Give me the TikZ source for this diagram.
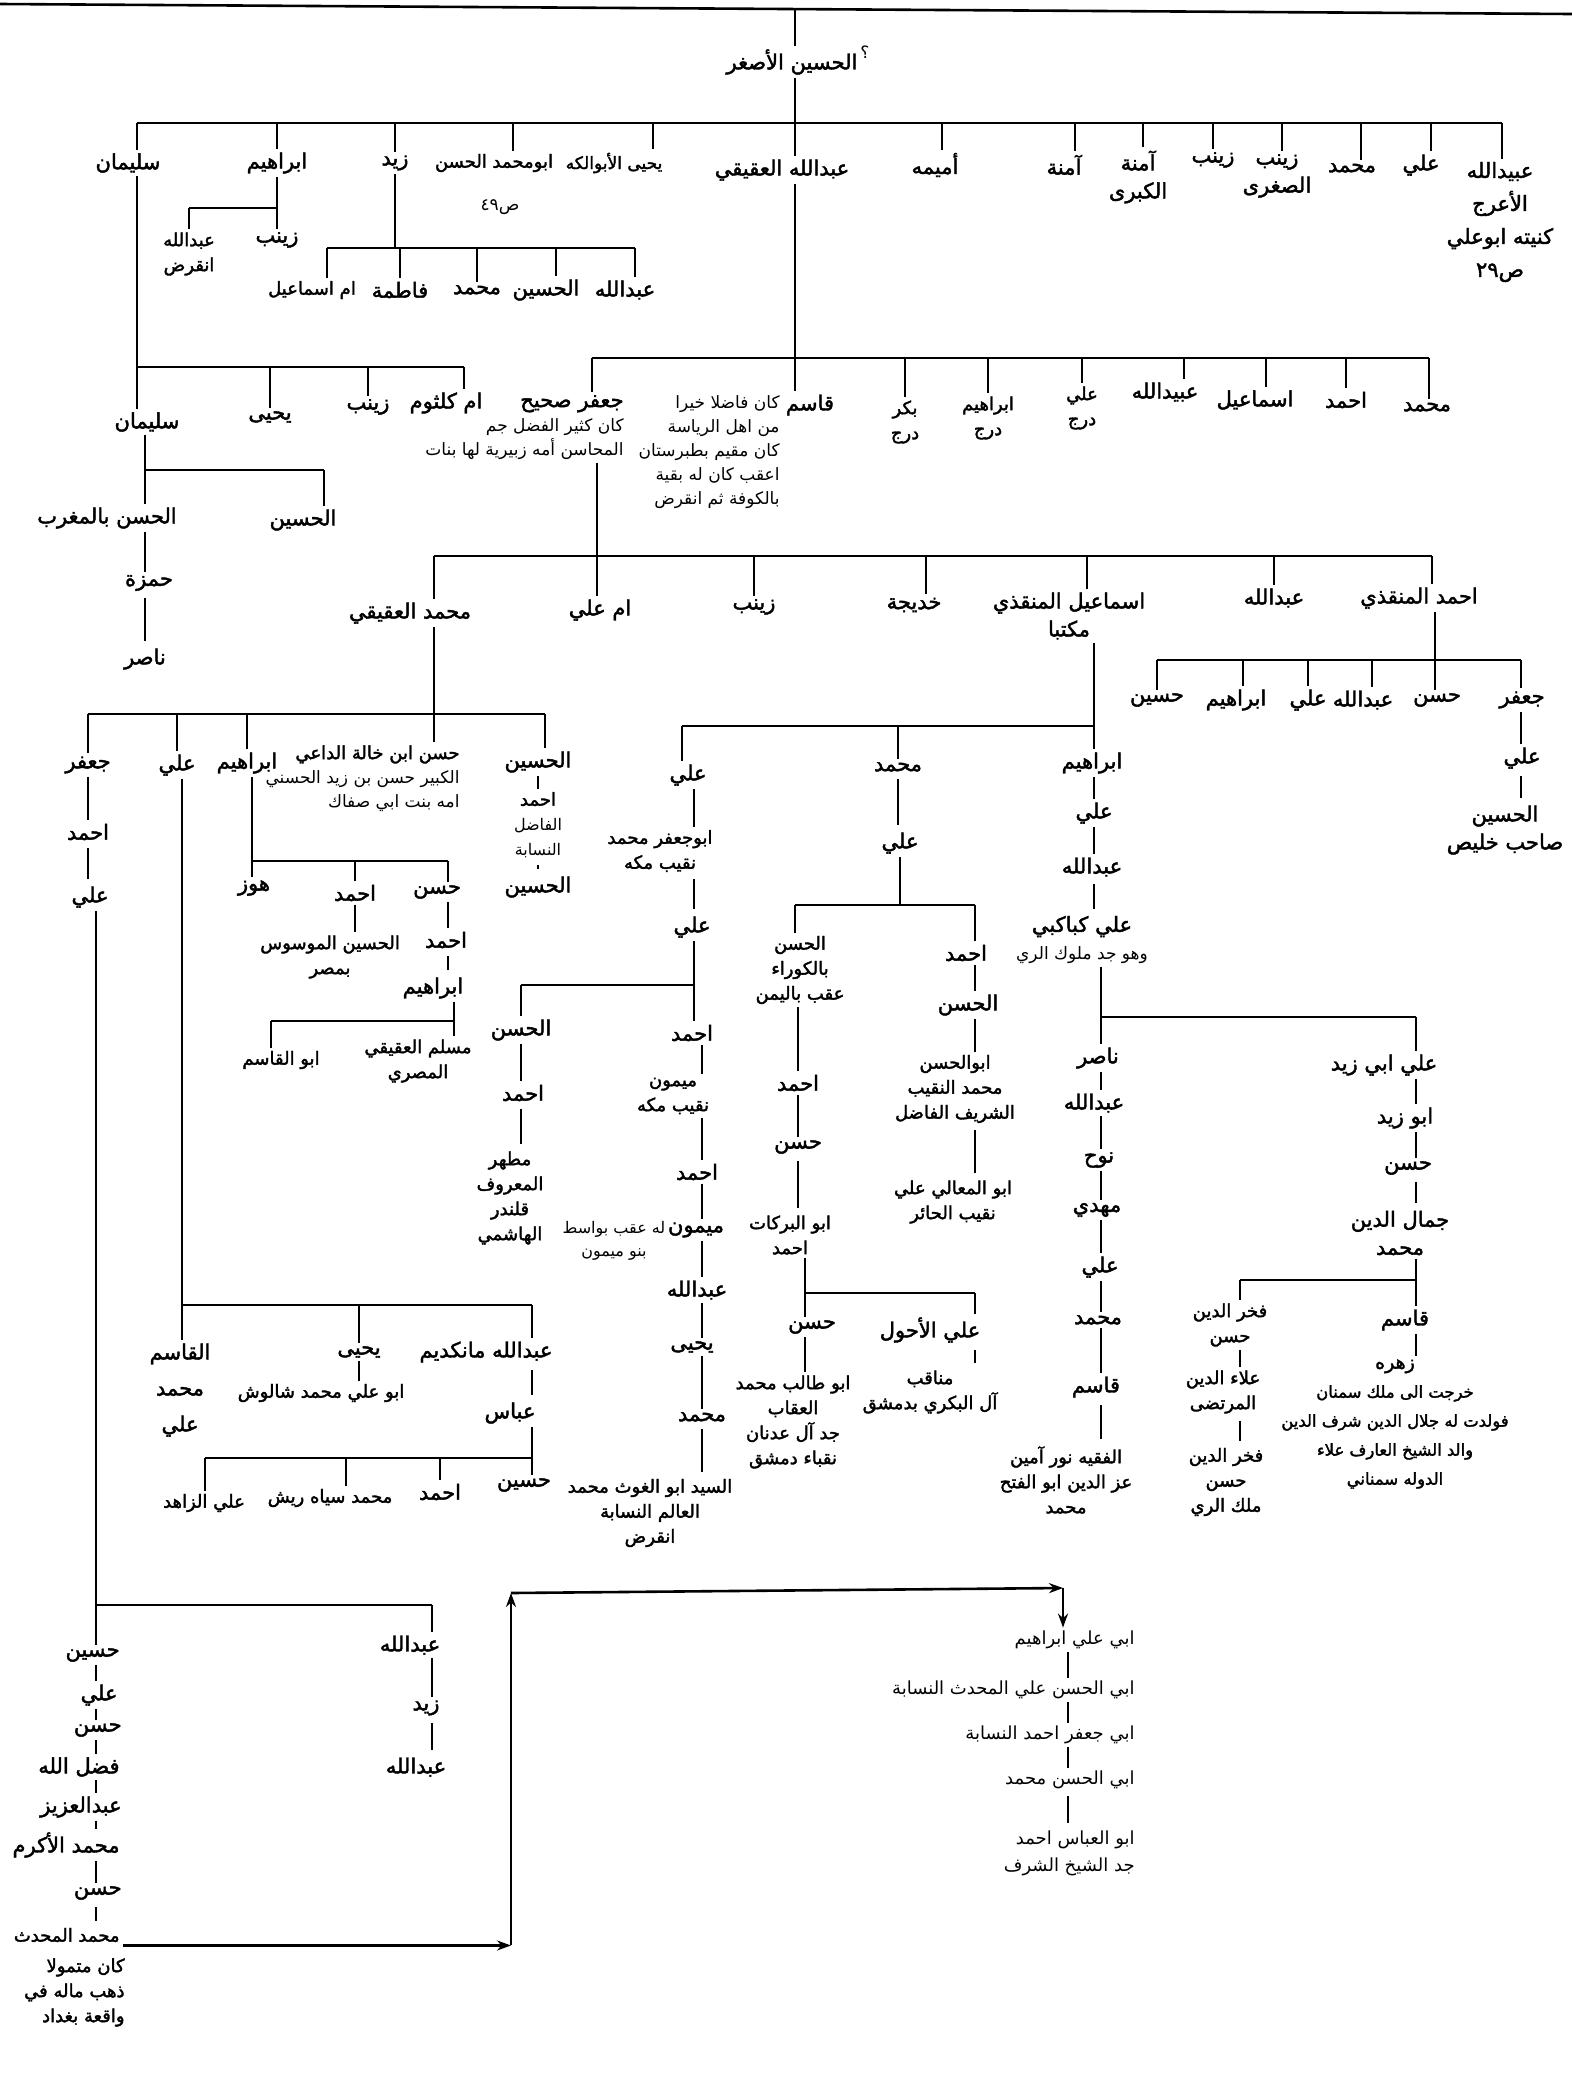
\documentclass[tikz,border=0pt]{standalone}
\usepackage{fontspec}
\newfontfamily\arfont[Script=Arabic]{DejaVu Sans}
\newfontfamily\arbold[Script=Arabic,FakeBold=2]{DejaVu Sans}
\TeXXeTstate=1
\newcommand{\rl}[1]{\beginR#1\endR}
\usetikzlibrary{arrows.meta,calc}

\begin{document}
\begin{tikzpicture}[x=0.5pt, y=-0.5pt,
  nm/.style={font={\arbold\fontsize{10.5}{14}\selectfont}, align=center, inner sep=1.5pt},
  nb/.style={font={\arbold\fontsize{9}{12.5}\selectfont}, align=center, inner sep=1.5pt},
  nt/.style={font={\arfont\fontsize{8.5}{12}\selectfont}, align=center, inner sep=1.5pt},
  ls/.style={font={\arfont\fontsize{9}{13.5}\selectfont}, align=right, inner sep=1.5pt, anchor=east},
  ln/.style={line width=1.3pt},
  lk/.style={line width=1.3pt, shorten <=2pt, shorten >=2pt},
  arw/.style={line width=1.3pt, -{Stealth[length=7pt,width=5pt]}}
]
\useasboundingbox (0,0) rectangle (1572,2084);

%% top rule and root
\coordinate (rulel) at (0,4);
\coordinate (ruler) at (1572,14);
\draw[ln] (rulel) -- (ruler);
\node[nm] (root) at (792,62) {\rl{الحسين الأصغر}};
\node[nt] (rootq) at ($(root.east)+(2pt,5pt)$) {\rl{؟}};
\coordinate (rootup) at (795,9);
\draw[ln] (rootup) -- (rootup |- root.north);

%% sons of the root
\coordinate (b1l) at (137,123);
\coordinate (b1r) at (1502,123);
\node[nm] (sul1) at (128,163) {\rl{سليمان}};
\node[nm] (ibr1) at (277,163) {\rl{ابراهيم}};
\node[nm] (zay1) at (395,163) {\rl{زيد}};
\node[nb] (has1) at (494,163) {\rl{ابومحمد الحسن}};
\node[nt] (has1p) at (500,207) {\rl{ص\beginL ٤٩\endL}};
\node[nb, font={\arbold\fontsize{8.5}{12}\selectfont}] (yah1) at (614,163) {\rl{يحيى الأبوالكه}};
\node[nm] (abd1) at (782,170) {\rl{عبدالله العقيقي}};
\node[nm] (umy1) at (935,165) {\rl{أميمه}};
\node[nm] (amn1) at (1064,165) {\rl{آمنة}};
\node[nm] (amk1) at (1138,177) {\rl{آمنة}\\\rl{الكبرى}};
\node[nm] (zyn1) at (1213,160) {\rl{زينب}};
\node[nm] (zys1) at (1277,176) {\rl{زينب}\\\rl{الصغرى}};
\node[nm] (muh1) at (1352,168) {\rl{محمد}};
\node[nm] (ali1) at (1421,165) {\rl{علي}};
\node[nm, font={\arbold\fontsize{10.5}{16.5}\selectfont}] (ubd1) at (1500,222)
  {\rl{عبيدالله}\\\rl{الأعرج}\\\rl{كنيته ابوعلي}\\\rl{ص\beginL ٢٩\endL}};

\draw[ln] (b1l) -- (b1r);
\draw[ln] (rootup |- root.south) -- (rootup |- abd1.north);
\draw[ln] (b1l) -- (b1l |- sul1.north)
  (ibr1 |- b1l) -- (ibr1)
  (zay1 |- b1l) -- (zay1)
  ($(has1.north |- b1l)+(9.5pt,0)$) -- ($(has1.north)+(9.5pt,0)$)
  ($(yah1.north |- b1l)+(19.5pt,0)$) -- ($(yah1.north)+(19.5pt,0)$)
  ($(umy1.north |- b1l)+(3.5pt,0)$) -- ($(umy1.north)+(3.5pt,0)$)
  ($(amn1.north |- b1l)+(5.5pt,0)$) -- ($(amn1.north)+(5.5pt,0)$)
  ($(amk1.north |- b1l)+(2.5pt,0)$) -- ($(amk1.north)+(2.5pt,0)$)
  (zyn1 |- b1l) -- (zyn1)
  ($(zys1.north |- b1l)+(2.5pt,0)$) -- ($(zys1.north)+(2.5pt,0)$)
  ($(muh1.north |- b1l)+(4.5pt,0)$) -- ($(muh1.north)+(4.5pt,0)$)
  ($(ali1.north |- b1l)+(5pt,0)$) -- ($(ali1.north)+(5pt,0)$)
  (b1r) -- (b1r |- ubd1.north);

%% ibrahim
\coordinate (b2l) at (189,208);
\coordinate (b2r) at (277,208);
\node[nm] (zyn2) at (277,240) {\rl{زينب}};
\node[nb] (abd2) at (189,254) {\rl{عبدالله}\\\rl{انقرض}};
\draw[ln] (ibr1) -- (ibr1 |- zyn2.north) (b2l) -- (b2r) (b2l) -- (b2l |- abd2.north);

%% zayd
\coordinate (b3l) at (327,248);
\coordinate (b3r) at (635,248);
\node[nb] (ums3) at (312,290) {\rl{ام اسماعيل}};
\node[nm] (fat3) at (400,290) {\rl{فاطمة}};
\node[nm] (mhd3) at (477,290) {\rl{محمد}};
\node[nm] (hsn3) at (546,290) {\rl{الحسين}};
\node[nm] (abd3) at (625,290) {\rl{عبدالله}};
\draw[ln] (zay1) -- (zay1 |- b3l) (b3l) -- (b3r)
  (b3l) -- (b3l |- ums3.north)
  (fat3 |- b3l) -- (fat3)
  (mhd3 |- b3l) -- (mhd3)
  ($(hsn3.north |- b3l)+(5pt,0)$) -- ($(hsn3.north)+(5pt,0)$)
  (b3r) -- (b3r |- abd3.north);

%% sulayman
\coordinate (b4l) at (137,367);
\coordinate (b4r) at (464,367);
\node[nm] (sul4) at (147,422) {\rl{سليمان}};
\node[nm] (yah4) at (270,417) {\rl{يحيى}};
\node[nm] (zyn4) at (368,407) {\rl{زينب}};
\node[nm] (umk4) at (446,403) {\rl{ام كلثوم}};
\draw[ln] (b4l |- sul1.south) -- (b4l |- sul4.north) (b4l) -- (b4r)
  (yah4 |- b4l) -- (yah4)
  (zyn4 |- b4l) -- (zyn4)
  (b4r) -- (b4r |- umk4.north);

\coordinate (b5l) at (145,470);
\coordinate (b5r) at (324,470);
\node[nm] (hsm5) at (107,518) {\rl{الحسن بالمغرب}};
\node[nm] (hsn5) at (303,520) {\rl{الحسين}};
\node[nm] (hmz5) at (149,583) {\rl{حمزة}};
\node[nm] (nas5) at (145,659) {\rl{ناصر}};
\draw[ln] (b5l |- sul4.south) -- (b5l |- hsm5.north) (b5l) -- (b5r) (b5r) -- (b5r |- hsn5.north);
\draw[lk] (b5l |- hsm5.south) -- (b5l |- hmz5.north) (b5l |- hmz5.south) -- (b5l |- nas5.north);

%% abdallah al-aqiqi
\coordinate (b6l) at (592,358);
\coordinate (b6r) at (1429,358);
\node[nt, align=right, anchor=north east] (jaf6) at (627,392)
  {{\arbold\fontsize{10.5}{14}\selectfont\rl{جعفر صحيح}}\\\rl{كان كثير الفضل جم}\\\rl{المحاسن أمه زبيرية لها بنات}};
\node[nt, align=right, anchor=north east] (qsn6) at (783,392)
  {\rl{كان فاضلا خيرا}\\\rl{من اهل الرياسة}\\\rl{كان مقيم بطبرستان}\\\rl{اعقب كان له بقية}\\\rl{بالكوفة ثم انقرض}};
\node[nm] (qas6) at (810,405) {\rl{قاسم}};
\node[nb] (bkr6) at (905,422) {\rl{بكر}\\\rl{درج}};
\node[nb] (ibr6) at (988,418) {\rl{ابراهيم}\\\rl{درج}};
\node[nb] (ali6) at (1082,408) {\rl{علي}\\\rl{درج}};
\node[nm] (ubd6) at (1165,392) {\rl{عبيدالله}};
\node[nm] (ism6) at (1255,400) {\rl{اسماعيل}};
\node[nm] (ahm6) at (1346,400) {\rl{احمد}};
\node[nm] (muh6) at (1427,407) {\rl{محمد}};
\draw[ln] (b6l) -- (b6r)
  (b6l) -- (b6l |- jaf6.north)
  (rootup |- abd1.south) -- (rootup |- qas6.north)
  (bkr6 |- b6l) -- (bkr6)
  (ibr6 |- b6l) -- (ibr6)
  (ali6 |- b6l) -- (ali6)
  ($(ubd6.north |- b6l)+(9.5pt,0)$) -- ($(ubd6.north)+(9.5pt,0)$)
  ($(ism6.north |- b6l)+(5.5pt,0)$) -- ($(ism6.north)+(5.5pt,0)$)
  (ahm6 |- b6l) -- (ahm6)
  (b6r) -- (b6r |- muh6.north);

%% jafar
\coordinate (b7l) at (434,556);
\coordinate (b7m) at (597,556);
\coordinate (b7r) at (1432,556);
\node[nm] (mak7) at (410,613) {\rl{محمد العقيقي}};
\node[nm] (uma7) at (600,610) {\rl{ام علي}};
\node[nm] (zyn7) at (754,607) {\rl{زينب}};
\node[nm] (khd7) at (914,605) {\rl{خديجة}};
\node[nm] (ism7) at (1069,616) {\rl{اسماعيل المنقذي}\\\rl{مكتبا}};
\node[nm] (abd7) at (1274,598) {\rl{عبدالله}};
\node[nm] (ahm7) at (1419,598) {\rl{احمد المنقذي}};
\draw[ln] (b7m |- jaf6.south) -- (b7m |- uma7.north) (b7l) -- (b7r)
  (b7l) -- (b7l |- mak7.north)
  (zyn7 |- b7l) -- (zyn7)
  ($(khd7.north |- b7l)+(6pt,0)$) -- ($(khd7.north)+(6pt,0)$)
  ($(ism7.north |- b7l)+(9pt,0)$) -- ($(ism7.north)+(9pt,0)$)
  (abd7 |- b7l) -- (abd7)
  (b7r) -- (b7r |- ahm7.north);

%% ahmad al-munqidhi
\coordinate (b8l) at (1157,660);
\coordinate (b8m) at (1435,660);
\coordinate (b8r) at (1521,660);
\node[nm] (jaf8) at (1522,700) {\rl{جعفر}};
\node[nm] (hsn8) at (1437,700) {\rl{حسن}};
\node[nm] (abd8) at (1363,700) {\rl{عبدالله}};
\node[nm] (ali8) at (1308,700) {\rl{علي}};
\node[nm] (ibr8) at (1236,700) {\rl{ابراهيم}};
\node[nm] (hsy8) at (1157,700) {\rl{حسين}};
\node[nm] (ali8b) at (1522,758) {\rl{علي}};
\node[nm] (hsn8b) at (1505,830) {\rl{الحسين}\\\rl{صاحب خليص}};
\draw[ln] (b8m |- ahm7.south) -- (b8m |- hsn8.north) (b8l) -- (b8r)
  (b8r) -- (b8r |- jaf8.north)
  ($(abd8.north |- b8l)+(4.5pt,0)$) -- ($(abd8.north)+(4.5pt,0)$)
  (ali8 |- b8l) -- (ali8)
  ($(ibr8.north |- b8l)+(3.5pt,0)$) -- ($(ibr8.north)+(3.5pt,0)$)
  (b8l) -- (b8l |- hsy8.north);
\draw[lk] (b8r |- jaf8.south) -- (b8r |- ali8b.north) (b8r |- ali8b.south) -- (b8r |- hsn8b.north);

%% ismail al-munqidhi
\coordinate (b9l) at (682,726);
\coordinate (b9r) at (1094,726);
\node[nm] (ali9) at (688,775) {\rl{علي}};
\node[nm] (mhd9) at (898,767) {\rl{محمد}};
\node[nm] (ibr9) at (1092,763) {\rl{ابراهيم}};
\node[nm] (ali9b) at (1094,813) {\rl{علي}};
\node[nm] (abd9) at (1092,867) {\rl{عبدالله}};
\node[nm] (akb9) at (1082,940) {\rl{علي كباكبي}\\{\arfont\fontsize{8.5}{12}\selectfont\rl{وهو جد ملوك الري}}};
\draw[ln] (b9r |- ism7.south) -- (b9r |- ibr9.north) (b9l) -- (b9r)
  (b9l) -- (b9l |- ali9.north)
  (mhd9 |- b9l) -- (mhd9);
\draw[lk] (b9r |- ibr9.south) -- (b9r |- ali9b.north) (b9r |- ali9b.south) -- (b9r |- abd9.north)
  (b9r |- abd9.south) -- (b9r |- akb9.north);

%% ali kabakibi
\coordinate (b10l) at (1101,1017);
\coordinate (b10r) at (1416,1017);
\node[nm] (nas10) at (1098,1058) {\rl{ناصر}};
\node[nm] (abd10) at (1094,1103) {\rl{عبدالله}};
\node[nm] (nuh10) at (1099,1160) {\rl{نوح}};
\node[nm] (mhd10) at (1097,1210) {\rl{مهدي}};
\node[nm] (ali10) at (1100,1267) {\rl{علي}};
\node[nm] (muh10) at (1098,1320) {\rl{محمد}};
\node[nm] (qas10) at (1096,1387) {\rl{قاسم}};
\node[nb] (fqh10) at (1066,1480) {\rl{الفقيه نور آمين}\\\rl{عز الدين ابو الفتح}\\\rl{محمد}};
\node[nm] (aliz10) at (1384,1065) {\rl{علي ابي زيد}};
\node[nm] (abz10) at (1405,1118) {\rl{ابو زيد}};
\node[nm] (hsn10) at (1408,1168) {\rl{حسن}};
\node[nm] (jml10) at (1400,1233) {\rl{جمال الدين}\\\rl{محمد}};
\draw[ln] (b10l |- akb9.south) -- (b10l |- nas10.north) (b10l) -- (b10r) (b10r) -- (b10r |- aliz10.north);
\draw[lk] (b10l |- nas10.south) -- (b10l |- abd10.north) (b10l |- abd10.south) -- (b10l |- nuh10.north)
  (b10l |- nuh10.south) -- (b10l |- mhd10.north) (b10l |- mhd10.south) -- (b10l |- ali10.north)
  (b10l |- ali10.south) -- (b10l |- muh10.north) (b10l |- muh10.south) -- (b10l |- qas10.north)
  (b10l |- qas10.south) -- (b10l |- fqh10.north);
\draw[lk] (b10r |- aliz10.south) -- (b10r |- abz10.north) (b10r |- abz10.south) -- (b10r |- hsn10.north)
  (b10r |- hsn10.south) -- (b10r |- jml10.north);

\coordinate (b11l) at (1240,1280);
\coordinate (b11r) at (1416,1280);
\node[nm] (qas11) at (1405,1320) {\rl{قاسم}};
\node[nb, font={\arbold\fontsize{8.2}{14.5}\selectfont}] (zhr11) at (1395,1424)
  {{\fontsize{9.5}{12}\selectfont\rl{زهره}}\\\rl{خرجت الى ملك سمنان}\\\rl{فولدت له جلال الدين شرف الدين}\\\rl{والد الشيخ العارف علاء}\\\rl{الدوله سمناني}};
\node[nb] (fkh11) at (1230,1325) {\rl{فخر الدين}\\\rl{حسن}};
\node[nb] (ala11) at (1223,1392) {\rl{علاء الدين}\\\rl{المرتضى}};
\node[nb] (fkh11b) at (1226,1482) {\rl{فخر الدين}\\\rl{حسن}\\\rl{ملك الري}};
\draw[ln] (b11r |- jml10.south) -- (b11r |- qas11.north) (b11l) -- (b11r) (b11l) -- (b11l |- fkh11.north);
\draw[lk] (b11r |- qas11.south) -- (b11r |- zhr11.north) (b11l |- fkh11.south) -- (b11l |- ala11.north)
  (b11l |- ala11.south) -- (b11l |- fkh11b.north);

%% muhammad b. ismail
\coordinate (b12l) at (795,905);
\coordinate (b12r) at (975,905);
\node[nm] (ali12) at (900,843) {\rl{علي}};
\node[nb] (hsn12) at (800,970) {\rl{الحسن}\\\rl{بالكوراء}\\\rl{عقب باليمن}};
\node[nm] (ahm12) at (966,953) {\rl{احمد}};
\draw[lk] (mhd9) -- (mhd9 |- ali12.north);
\draw[ln] (ali12) -- (ali12 |- b12l) (b12l) -- (b12r) (b12l) -- (b12l |- hsn12.north) (b12r) -- (b12r |- ahm12.north);

\coordinate (b13l) at (805,1293);
\coordinate (b13r) at (975,1293);
\node[nm] (ahm13) at (798,1083) {\rl{احمد}};
\node[nm] (hsn13) at (798,1147) {\rl{حسن}};
\node[nb] (abk13) at (790,1235) {\rl{ابو البركات}\\\rl{احمد}};
\node[nm] (hsn13b) at (812,1327) {\rl{حسن}};
\node[nm] (ala13) at (930,1330) {\rl{علي الأحول}};
\node[nb] (atb13) at (793,1422) {\rl{ابو طالب محمد}\\\rl{العقاب}\\\rl{جد آل عدنان}\\\rl{نقباء دمشق}};
\node[nb] (mnq13) at (930,1392) {\rl{مناقب}\\\rl{آل البكري بدمشق}};
\draw[lk] (ahm13 |- hsn12.south) -- (ahm13) (ahm13) -- (hsn13) (hsn13) -- (hsn13 |- abk13.north);
\draw[ln] (b13l |- abk13.south) -- (b13l |- hsn13b.north) (b13l) -- (b13r) (b13r) -- (b13r |- ala13.north);
\draw[lk] (b13l |- hsn13b.south) -- (b13l |- atb13.north) (b13r |- ala13.south) -- (b13r |- mnq13.north);

\node[nm] (hsn14) at (968,1005) {\rl{الحسن}};
\node[nb] (abh14) at (955,1089) {\rl{ابوالحسن}\\\rl{محمد النقيب}\\\rl{الشريف الفاضل}};
\node[nb] (amc14) at (953,1202) {\rl{ابو المعالي علي}\\\rl{نقيب الحائر}};
\draw[lk] (b12r |- ahm12.south) -- (b12r |- hsn14.north) (b12r |- hsn14.south) -- (b12r |- abh14.north)
  (b12r |- abh14.south) -- (b12r |- amc14.north);

%% ali b. ismail
\coordinate (b15l) at (521,985);
\coordinate (b15r) at (694,985);
\coordinate (colc) at (702,1040);
\node[nb] (abj15) at (660,851) {\rl{ابوجعفر محمد}\\\rl{نقيب مكه}};
\node[nm] (ali15) at (692,927) {\rl{علي}};
\node[nm] (hsn15) at (521,1030) {\rl{الحسن}};
\node[nm] (ahm15) at (692,1033) {\rl{احمد}};
\node[nm] (ahm16) at (523,1093) {\rl{احمد}};
\node[nb, font={\arbold\fontsize{9}{12.5}\selectfont}] (mth16) at (510,1198) {\rl{مطهر}\\\rl{المعروف}\\\rl{قلندر}\\\rl{الهاشمي}};
\draw[lk] (b15r |- ali9.south) -- (b15r |- abj15.north) (b15r |- abj15.south) -- (b15r |- ali15.north);
\draw[ln] (b15r |- ali15.south) -- (b15r |- ahm15.north) (b15l) -- (b15r) (b15l) -- (b15l |- hsn15.north);
\draw[lk] (b15l |- hsn15.south) -- (b15l |- ahm16.north) (b15l |- ahm16.south) -- (b15l |- mth16.north);

\node[nb] (mym17) at (673,1096) {\rl{ميمون}\\\rl{نقيب مكه}};
\node[nm] (ahm17) at (697,1172) {\rl{احمد}};
\node[nm] (mym17b) at (696,1230) {\rl{ميمون}};
\node[nt, font={\arfont\fontsize{8}{11.5}\selectfont}] (mymn17) at (614,1241) {\rl{له عقب بواسط}\\\rl{بنو ميمون}};
\node[nm] (abd17) at (697,1290) {\rl{عبدالله}};
\node[nm] (yah17) at (692,1347) {\rl{يحيى}};
\node[nm] (muh17) at (702,1417) {\rl{محمد}};
\node[nb] (syd17) at (650,1513) {\rl{السيد ابو الغوث محمد}\\\rl{العالم النسابة}\\\rl{انقرض}};
\draw[lk] (colc |- ahm15.south) -- (colc |- mym17.north) (colc |- mym17.south) -- (colc |- ahm17.north)
  (colc |- ahm17.south) -- (colc |- mym17b.north) (colc |- mym17b.south) -- (colc |- abd17.north)
  (colc |- abd17.south) -- (colc |- yah17.north) (colc |- yah17.south) -- (colc |- muh17.north)
  (colc |- muh17.south) -- (colc |- syd17.north);

%% muhammad al-aqiqi
\coordinate (b18l) at (88,714);
\coordinate (b18m) at (434,714);
\coordinate (b18r) at (545,714);
\node[nm] (jaf18) at (88,765) {\rl{جعفر}};
\node[nm] (ali18) at (177,765) {\rl{علي}};
\node[nm] (ibr18) at (247,763) {\rl{ابراهيم}};
\node[nt, align=right, anchor=north east] (hkh18) at (463,742)
  {{\arbold\fontsize{9}{12}\selectfont\rl{حسن ابن خالة الداعي}}\\\rl{الكبير حسن بن زيد الحسني}\\\rl{امه بنت ابي صفاك}};
\node[nm] (hsy18) at (538,762) {\rl{الحسين}};
\node[nm] (ahm19) at (88,832) {\rl{احمد}};
\node[nm] (ali19) at (90,897) {\rl{علي}};
\draw[ln] (b18m |- mak7.south) -- (b18m |- hkh18.north) (b18l) -- (b18r)
  (b18l) -- (b18l |- jaf18.north)
  (ali18 |- b18l) -- (ali18)
  (ibr18 |- b18l) -- (ibr18)
  (b18r) -- (b18r |- hsy18.north);
\draw[lk] (b18l |- jaf18.south) -- (b18l |- ahm19.north) (b18l |- ahm19.south) -- (b18l |- ali19.north);

\node[nb] (ahf25) at (538,825) {\rl{احمد}\\{\arfont\fontsize{8}{10}\selectfont\rl{الفاضل}}\\{\arfont\fontsize{8}{10}\selectfont\rl{النسابة}}};
\node[nm] (hsy25) at (538,887) {\rl{الحسين}};
\draw[lk] (hsy18) -- (ahf25) (ahf25) -- (hsy25);

%% ibrahim b. muhammad
\coordinate (b23l) at (252,861);
\coordinate (b23r) at (448,861);
\node[nm] (hwz23) at (254,888) {\rl{هوز}};
\node[nm] (ahm23) at (355,893) {\rl{احمد}};
\node[nm] (hsn23) at (437,892) {\rl{حسن}};
\node[nb] (hmw23) at (330,957) {\rl{الحسين الموسوس}\\\rl{بمصر}};
\node[nm] (ahm23b) at (446,940) {\rl{احمد}};
\node[nm] (ibr23) at (433,988) {\rl{ابراهيم}};
\draw[ln] (b23l |- ibr18.south) -- (b23l |- hwz23.north) (b23l) -- (b23r) (ahm23 |- b23l) -- (ahm23)
  (b23r) -- (b23r |- hsn23.north);
\draw[lk] (ahm23) -- (ahm23 |- hmw23.north) (b23r |- hsn23.south) -- (b23r |- ahm23b.north)
  (b23r |- ahm23b.south) -- (b23r |- ibr23.north);

\coordinate (b24l) at (271,1021);
\coordinate (b24r) at (454,1021);
\node[nb] (msl24) at (418,1061) {\rl{مسلم العقيقي}\\\rl{المصري}};
\node[nb] (abq24) at (281,1060) {\rl{ابو القاسم}};
\draw[ln] (b24r |- ibr23.south) -- (b24r |- msl24.north) (b24l) -- (b24r) (b24l) -- (b24l |- abq24.north);

%% ali b. muhammad
\coordinate (b21l) at (182,1305);
\coordinate (b21r) at (532,1305);
\node[nm, font={\arbold\fontsize{10.5}{18}\selectfont}] (qsm21) at (180,1390) {\rl{القاسم}\\\rl{محمد}\\\rl{علي}};
\node[nm] (abm21) at (486,1352) {\rl{عبدالله مانكديم}};
\node[nm] (yah21) at (359,1352) {\rl{يحيى}};
\node[nb] (shl21) at (321,1393) {\rl{ابو علي محمد شالوش}};
\node[nm] (abs21) at (510,1413) {\rl{عباس}};
\draw[ln] (b21l |- ali18.south) -- (b21l |- qsm21.north) (b21l) -- (b21r) (b21r) -- (b21r |- abm21.north)
  (yah21 |- b21l) -- (yah21);
\draw[lk] (yah21) -- (yah21 |- shl21.north) (b21r |- abm21.south) -- (b21r |- abs21.north);

\coordinate (b22l) at (205,1458);
\coordinate (b22r) at (532,1458);
\node[nm] (hsy22) at (524,1485) {\rl{حسين}};
\node[nm] (ahm22) at (440,1492) {\rl{احمد}};
\node[nb] (msr22) at (330,1498) {\rl{محمد سياه ريش}};
\node[nb] (alz22) at (204,1503) {\rl{علي الزاهد}};
\draw[ln] (b22r |- abs21.south) -- (b22r |- hsy22.north) (b22l) -- (b22r) (b22l) -- (b22l |- alz22.north)
  (ahm22 |- b22l) -- (ahm22)
  ($(msr22.north |- b22l)+(8pt,0)$) -- ($(msr22.north)+(8pt,0)$);

%% ali b. jafar
\coordinate (b20l) at (96,1605);
\coordinate (b20r) at (432,1605);
\node[nm, anchor=east] (hsy20) at (123,1655) {\rl{حسين}};
\node[nm, anchor=east] (ali20) at (121,1695) {\rl{علي}};
\node[nm, anchor=east] (hsn20) at (125,1730) {\rl{حسن}};
\node[nm, anchor=east] (fdl20) at (123,1767) {\rl{فضل الله}};
\node[nm, anchor=east] (azz20) at (125,1807) {\rl{عبدالعزيز}};
\node[nm, anchor=east] (akr20) at (123,1845) {\rl{محمد الأكرم}};
\node[nm, anchor=east] (hsn20b) at (125,1893) {\rl{حسن}};
\node[nb, anchor=east] (mhd20) at (123,1935) {\rl{محمد المحدث}};
\node[nb, align=right, anchor=north east] (mtm20) at (128,1955) {\rl{كان متمولا}\\\rl{ذهب ماله في}\\\rl{واقعة بغداد}};
\node[nm] (abd20) at (410,1645) {\rl{عبدالله}};
\node[nm] (zyd20) at (426,1708) {\rl{زيد}};
\node[nm] (abd20b) at (416,1767) {\rl{عبدالله}};
\draw[ln] (b20l |- ali19.south) -- (b20l |- hsy20.north) (b20l) -- (b20r) (b20r) -- (b20r |- abd20.north);
\draw[lk] (b20l |- hsy20.south) -- (b20l |- ali20.north) (b20l |- ali20.south) -- (b20l |- hsn20.north)
  (b20l |- hsn20.south) -- (b20l |- fdl20.north) (b20l |- fdl20.south) -- (b20l |- azz20.north)
  (b20l |- azz20.south) -- (b20l |- akr20.north) (b20l |- akr20.south) -- (b20l |- hsn20b.north)
  (b20l |- hsn20b.south) -- (b20l |- mhd20.north);
\draw[lk] (b20r |- abd20.south) -- (b20r |- zyd20.north) (b20r |- zyd20.south) -- (b20r |- abd20b.north);

%% cross reference
\coordinate (ar1) at (511,1953);
\coordinate (ar2) at (511,1593);
\coordinate (ar3) at (1063,1588);
\coordinate (colb) at (1068,1600);
\node[ls] (abi26) at (1138,1640) {\rl{ابي علي ابراهيم}};
\node[ls] (abi27) at (1138,1690) {\rl{ابي الحسن علي المحدث النسابة}};
\node[ls] (abi28) at (1138,1735) {\rl{ابي جعفر احمد النسابة}};
\node[ls] (abi29) at (1138,1780) {\rl{ابي الحسن محمد}};
\node[ls] (abi30) at (1138,1853) {\rl{ابو العباس احمد}\\\rl{جد الشيخ الشرف}};
\draw[arw] (mhd20.south east) -- (mhd20.south east -| ar1);
\draw[arw] (mhd20.south east -| ar1) -- (ar2);
\draw[arw] (ar2) -- (ar3);
\draw[arw] (ar3) -- (ar3 |- abi26.north);
\draw[lk] (colb |- abi26.south) -- (colb |- abi27.north) (colb |- abi27.south) -- (colb |- abi28.north)
  (colb |- abi28.south) -- (colb |- abi29.north) (colb |- abi29.south) -- (colb |- abi30.north);
\end{tikzpicture}
\end{document}
